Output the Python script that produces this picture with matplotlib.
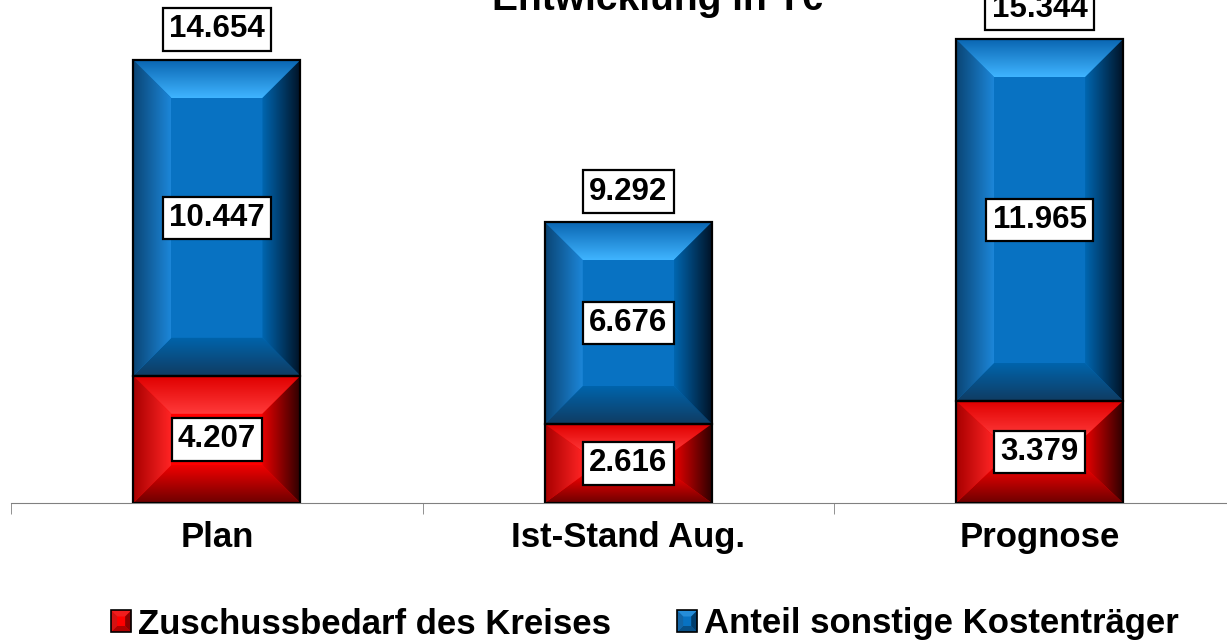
import numpy as np
import matplotlib
matplotlib.use("Agg")
import matplotlib.pyplot as plt
from matplotlib.patches import Polygon, Rectangle, Patch
from matplotlib.legend_handler import HandlerPatch
from matplotlib.colors import to_rgb

# ── Daten (T€) ────────────────────────────────────────────────────────────────
categories = ["Plan", "Ist-Stand Aug.", "Prognose"]
zuschuss   = [4207, 2616, 3379]      # Zuschussbedarf des Kreises
sonstige   = [10447, 6676, 11965]    # Anteil sonstige Kostenträger
totals     = [14654, 9292, 15344]
legend_labels = ["Zuschussbedarf des Kreises", "Anteil sonstige Kostenträger"]
title = "Entwicklung in T€"

plt.rcParams["font.family"] = ["Liberation Sans", "DejaVu Sans"]
plt.rcParams["font.weight"] = "bold"

RED = dict(base="#ff0000", left=("#a80000", "#ff2424"), right=("#e80000", "#300000"),
           top=("#ff3a3a", "#e00000"), bottom=("#6e0000", "#f00000"))
BLUE = dict(base="#0872c2", left=("#0a4575", "#1c86d8"), right=("#0066b0", "#001428"),
            top=("#3fb4ff", "#0a66b2"), bottom=("#103c62", "#0064ac"))


def fmt(v):
    return f"{v / 1000:.3f}"


def grad_poly(ax, verts, c_lo, c_hi, direction, z):
    verts = np.asarray(verts)
    xmin, ymin = verts.min(axis=0)
    xmax, ymax = verts.max(axis=0)
    t = np.linspace(0, 1, 64)[:, None]
    arr = (1 - t) * np.array(to_rgb(c_lo)) + t * np.array(to_rgb(c_hi))
    arr = arr[:, None, :] if direction == "v" else arr[None, :, :]
    poly = Polygon(verts, closed=True, fc="none", ec="none", transform=ax.transData)
    ax.add_patch(poly)
    im = ax.imshow(arr, extent=(xmin, xmax, ymin, ymax), origin="lower",
                   aspect="auto", interpolation="bilinear", zorder=z)
    im.set_clip_path(poly)


def bevel(ax, rect, style, pxx, pxy):
    x0, y0 = rect.get_x(), rect.get_y()
    x1, y1 = x0 + rect.get_width(), y0 + rect.get_height()
    h_px = rect.get_height() * pxy
    bx, by = 38 / pxx, min(38, 0.35 * h_px) / pxy
    grad_poly(ax, [(x0, y1), (x1, y1), (x1 - bx, y1 - by), (x0 + bx, y1 - by)],
              style["top"][0], style["top"][1], "v", 4)
    grad_poly(ax, [(x0, y0), (x1, y0), (x1 - bx, y0 + by), (x0 + bx, y0 + by)],
              style["bottom"][0], style["bottom"][1], "v", 4)
    grad_poly(ax, [(x0, y0), (x0, y1), (x0 + bx, y1 - by), (x0 + bx, y0 + by)],
              style["left"][0], style["left"][1], "h", 4)
    grad_poly(ax, [(x1, y0), (x1, y1), (x1 - bx, y1 - by), (x1 - bx, y0 + by)],
              style["right"][0], style["right"][1], "h", 4)
    ax.add_patch(Rectangle((x0, y0), x1 - x0, y1 - y0, fc="none", ec="black",
                           lw=1.6, zorder=5))


class BevelHandler(HandlerPatch):
    def __init__(self, style):
        super().__init__()
        self.style = style

    def create_artists(self, legend, orig_handle, xdescent, ydescent, width, height,
                       fontsize, trans):
        s = self.style
        x0, y0 = -xdescent, -ydescent
        x1, y1 = x0 + width, y0 + height
        b = 0.3 * width
        mix = lambda pair: tuple((np.array(to_rgb(pair[0])) + np.array(to_rgb(pair[1]))) / 2)
        faces = [
            ([(x0, y0), (x1, y0), (x1, y1), (x0, y1)], s["base"]),
            ([(x0, y1), (x1, y1), (x1 - b, y1 - b), (x0 + b, y1 - b)], mix(s["top"])),
            ([(x0, y0), (x1, y0), (x1 - b, y0 + b), (x0 + b, y0 + b)], mix(s["bottom"])),
            ([(x0, y0), (x0, y1), (x0 + b, y1 - b), (x0 + b, y0 + b)], mix(s["left"])),
            ([(x1, y0), (x1, y1), (x1 - b, y1 - b), (x1 - b, y0 + b)], mix(s["right"])),
        ]
        arts = [Polygon(v, closed=True, fc=c, ec="none", transform=trans) for v, c in faces]
        arts.append(Rectangle((x0, y0), width, height, fc="none", ec="black", lw=1.2,
                              transform=trans))
        return arts


fig = plt.figure(figsize=(12.27, 6.42), dpi=100)
ymax = 16000
px_per_unit = 443 / 14654
ax = fig.add_axes([11.25 / 1227, 139 / 642, 1234 / 1227, ymax * px_per_unit / 642])
ax.set_xlim(-0.5, 2.5)
ax.set_ylim(0, ymax)

x = np.arange(len(categories))
bw = 0.406
b1 = ax.bar(x, zuschuss, bw, color=RED["base"], zorder=3)
b2 = ax.bar(x, sonstige, bw, bottom=zuschuss, color=BLUE["base"], zorder=3)

pxx = 1234 / 3.0
for r in b1:
    bevel(ax, r, RED, pxx, px_per_unit)
for r in b2:
    bevel(ax, r, BLUE, pxx, px_per_unit)

box = dict(boxstyle="square,pad=0.2", fc="white", ec="black", lw=1.6)
lab_fs = 22.5
for i in range(len(categories)):
    ax.text(x[i], zuschuss[i] / 2, fmt(zuschuss[i]), ha="center", va="center",
            fontsize=lab_fs, fontweight="bold", bbox=box, zorder=6)
    ax.text(x[i], zuschuss[i] + sonstige[i] / 2, fmt(sonstige[i]), ha="center",
            va="center", fontsize=lab_fs, fontweight="bold", bbox=box, zorder=6)
    ax.annotate(fmt(totals[i]), (x[i], totals[i]), xytext=(0, 22),
                textcoords="offset points", ha="center", va="center",
                fontsize=lab_fs, fontweight="bold", bbox=box, zorder=6,
                annotation_clip=False)

for s in ["top", "right", "left"]:
    ax.spines[s].set_visible(False)
ax.spines["bottom"].set_color("#808080")
ax.yaxis.set_visible(False)
ax.set_xticks(x)
ax.set_xticklabels(categories, fontsize=25, fontweight="bold")
ax.set_xticks([-0.5, 0.5, 1.5, 2.5], minor=True)
ax.tick_params(axis="x", which="major", length=0, pad=13)
ax.tick_params(axis="x", which="minor", length=8, color="#808080")

fig.text(657 / 1227, 1 - 10 / 642, title, ha="center", va="baseline",
         fontsize=28, fontweight="bold")

handles = [Patch(fc=RED["base"]), Patch(fc=BLUE["base"])]
fig.legend(handles, legend_labels, loc="center", bbox_to_anchor=(645 / 1227, 1 - 624 / 642),
           ncol=2, frameon=False, prop=dict(size=25, weight="bold"),
           handlelength=0.58, handleheight=0.58, handletextpad=0.2, columnspacing=1.9,
           handler_map={handles[0]: BevelHandler(RED), handles[1]: BevelHandler(BLUE)})

fig.savefig("out.png", dpi=100)
